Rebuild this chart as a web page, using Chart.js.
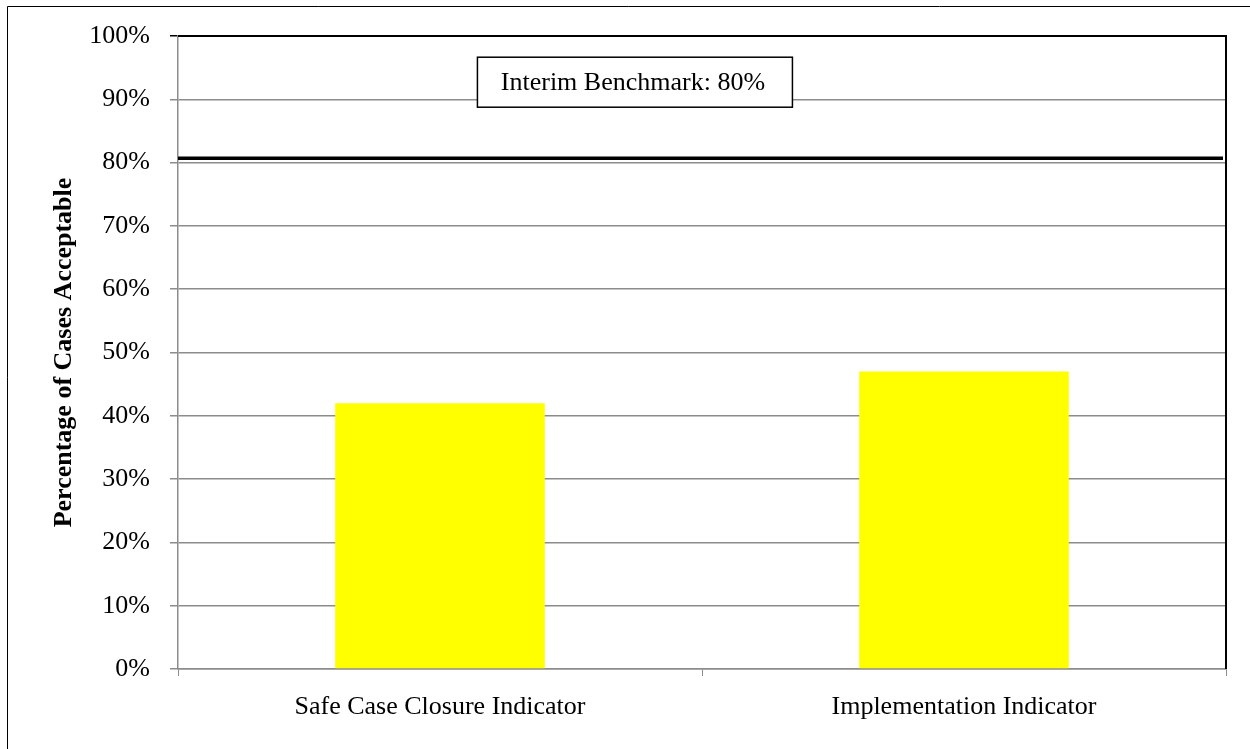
<!DOCTYPE html>
<html lang="en">
<head>
    <meta charset="UTF-8">
    <title>Percentage of Cases Acceptable</title>
    <script src="https://cdn.jsdelivr.net/npm/chart.js"></script>
    <style>
        body { margin: 0; background: #fff; }
    </style>
</head>
<body>
    <canvas id="barChart" width="1250" height="749"></canvas>

    <script>
        // data
        const categories = ['Safe Case Closure Indicator', 'Implementation Indicator'];
        const acceptable = [42, 47];
        const benchmark = 80.7;
        const benchmarkLabel = 'Interim Benchmark: 80%';
        const yTicks = [0, 10, 20, 30, 40, 50, 60, 70, 80, 90, 100];

        const serif = "'Liberation Serif', 'Times New Roman', serif";
        const gridGray = '#8c8c8c';

        // thick benchmark line + its label box, and the frame lines
        const benchmarkPlugin = {
            id: 'benchmark',
            afterDatasetsDraw(chart) {
                const { ctx, chartArea, scales } = chart;
                const y = scales.y.getPixelForValue(benchmark);
                ctx.save();
                ctx.strokeStyle = '#000';
                ctx.lineWidth = 3.5;
                ctx.beginPath();
                ctx.moveTo(chartArea.left, y);
                ctx.lineTo(chartArea.right - 3, y);
                ctx.stroke();

                // plot area border (top + right)
                ctx.lineWidth = 2;
                ctx.beginPath();
                ctx.moveTo(chartArea.left, chartArea.top);
                ctx.lineTo(chartArea.right, chartArea.top);
                ctx.lineTo(chartArea.right, chartArea.bottom);
                ctx.stroke();

                // label box
                const cx = chartArea.left + (chartArea.right - chartArea.left) * 0.436;
                const cy = scales.y.getPixelForValue(92.7);
                const w = 315, h = 50;
                ctx.fillStyle = '#fff';
                ctx.fillRect(cx - w / 2, cy - h / 2, w, h);
                ctx.lineWidth = 1.5;
                ctx.strokeRect(cx - w / 2, cy - h / 2, w, h);
                ctx.fillStyle = '#000';
                ctx.font = '26px ' + serif;
                ctx.textAlign = 'center';
                ctx.textBaseline = 'middle';
                ctx.fillText(benchmarkLabel, cx - 2, cy + 1);

                // outer frame (only left and top visible)
                ctx.lineWidth = 1;
                ctx.beginPath();
                ctx.moveTo(7.5, chart.height);
                ctx.lineTo(7.5, 6.5);
                ctx.lineTo(chart.width, 6.5);
                ctx.stroke();
                ctx.restore();
            }
        };

        const ctx = document.getElementById('barChart').getContext('2d');

        new Chart(ctx, {
            type: 'bar',
            data: {
                labels: categories,
                datasets: [{
                    data: acceptable,
                    backgroundColor: '#ffff00',
                    borderWidth: 0,
                    barPercentage: 0.4,
                    categoryPercentage: 1
                }]
            },
            options: {
                responsive: false,
                animation: false,
                devicePixelRatio: 1,
                layout: {
                    padding: { left: 0, top: 36, right: 24, bottom: 0 }
                },
                plugins: {
                    legend: { display: false },
                    tooltip: { enabled: false }
                },
                scales: {
                    x: {
                        grid: {
                            offset: true,
                            drawOnChartArea: false,
                            tickLength: 7,
                            color: gridGray
                        },
                        border: { color: gridGray, width: 1.5 },
                        ticks: {
                            padding: 16,
                            color: '#000',
                            font: { family: serif, size: 26 }
                        },
                        afterFit(scale) { scale.height = 80; }
                    },
                    y: {
                        min: 0,
                        max: 100,
                        afterBuildTicks(scale) {
                            scale.ticks = yTicks.map(v => ({ value: v }));
                        },
                        grid: {
                            tickLength: 8,
                            lineWidth: 1.5,
                            color: ctx => ctx.tick && ctx.tick.value === 100 ? '#000' : gridGray
                        },
                        border: { color: gridGray, width: 1.5 },
                        ticks: {
                            padding: 20,
                            color: '#000',
                            font: { family: serif, size: 26 },
                            callback: v => v + '%'
                        },
                        title: {
                            display: true,
                            text: 'Percentage of Cases Acceptable',
                            color: '#000',
                            font: { family: serif, size: 26, weight: 'bold' },
                            padding: { top: 49, bottom: 0 }
                        },
                        afterFit(scale) { scale.width = 178; }
                    }
                }
            },
            plugins: [benchmarkPlugin]
        });
    </script>
</body>
</html>
